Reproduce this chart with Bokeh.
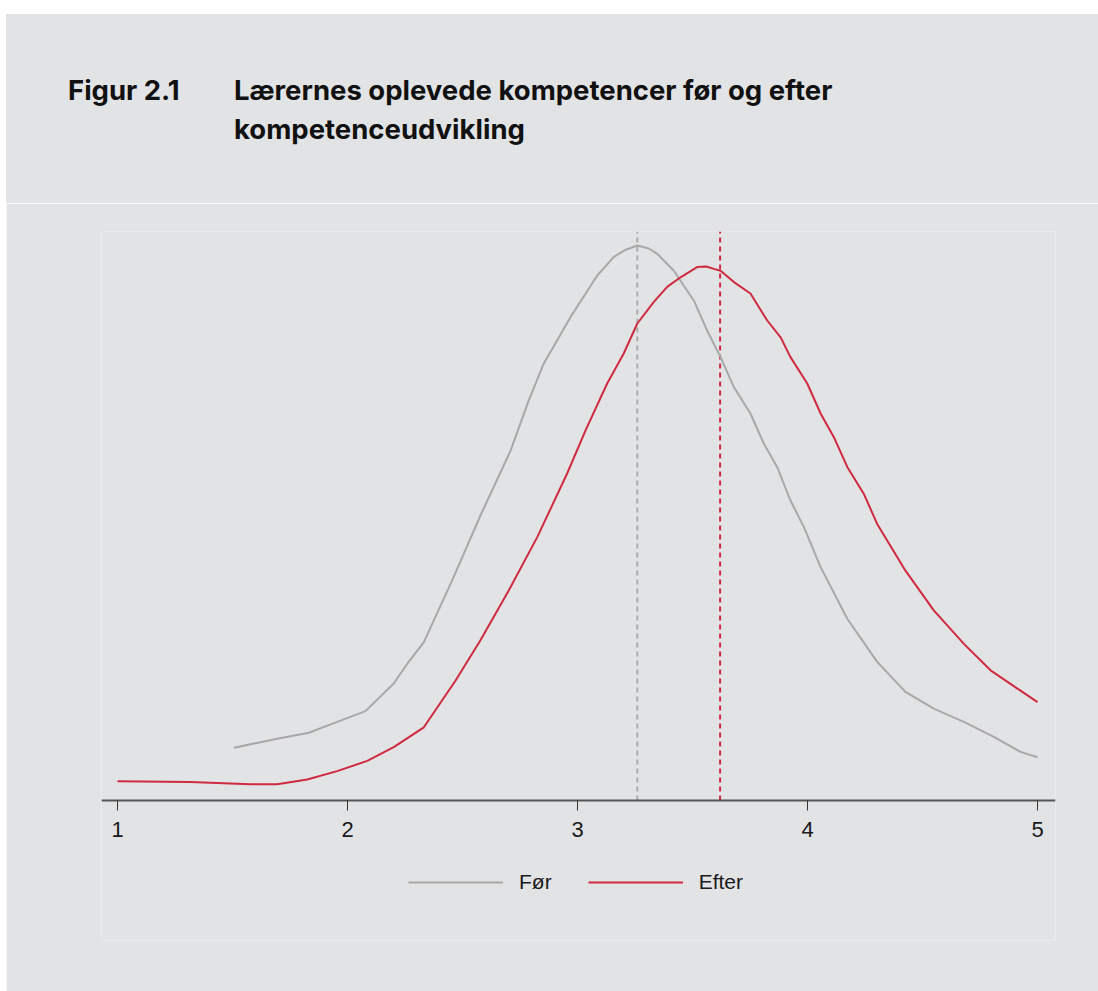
from bokeh.plotting import figure
from bokeh.models import (Range1d, Legend, LegendItem, FixedTicker, Div, Spacer)
from bokeh.layouts import row, column
from bokeh.embed import file_html
from bokeh.resources import INLINE

# ---- data (kernel density estimates) ----
for_x = [1.506, 1.607, 1.694, 1.832, 1.955, 2.078, 2.201, 2.260, 2.332, 2.455,
         2.578, 2.709, 2.788, 2.853, 2.970, 3.086, 3.158, 3.210, 3.260, 3.310,
         3.347, 3.419, 3.506, 3.564, 3.622, 3.680, 3.752, 3.810, 3.868, 3.926,
         3.984, 4.057, 4.173, 4.303, 4.426, 4.549, 4.680, 4.810, 4.926, 5.000]
for_y = [0.088, 0.096, 0.103, 0.113, 0.131, 0.149, 0.195, 0.228, 0.264, 0.367,
         0.475, 0.583, 0.667, 0.728, 0.806, 0.875, 0.906, 0.918, 0.925, 0.920,
         0.911, 0.883, 0.833, 0.783, 0.739, 0.689, 0.645, 0.595, 0.556, 0.500,
         0.456, 0.389, 0.303, 0.231, 0.181, 0.153, 0.131, 0.106, 0.081, 0.072]

efter_x = [1.000, 1.317, 1.578, 1.694, 1.825, 1.955, 2.086, 2.201, 2.332, 2.470,
           2.578, 2.701, 2.825, 2.955, 3.035, 3.129, 3.201, 3.260, 3.332, 3.390,
           3.448, 3.520, 3.560, 3.593, 3.622, 3.680, 3.752, 3.825, 3.883, 3.926,
           3.999, 4.057, 4.114, 4.173, 4.245, 4.303, 4.426, 4.549, 4.680, 4.796,
           4.926, 5.000]
efter_y = [0.032, 0.031, 0.027, 0.027, 0.035, 0.049, 0.066, 0.089, 0.122, 0.200,
           0.267, 0.350, 0.439, 0.545, 0.617, 0.695, 0.745, 0.795, 0.831, 0.856,
           0.872, 0.889, 0.890, 0.886, 0.883, 0.864, 0.845, 0.800, 0.772, 0.739,
           0.695, 0.645, 0.606, 0.556, 0.511, 0.461, 0.383, 0.317, 0.261, 0.217,
           0.183, 0.164]

mean_for = 3.26
mean_efter = 3.62

x_ticks = [1, 2, 3, 4, 5]
series_labels = ["Før", "Efter"]
title_num = "Figur 2.1"
title_lines = ["Lærernes oplevede kompetencer før og efter", "kompetenceudvikling"]

GREY = "#A8A8A8"
MEAN_GREY = "#ABABAB"
RED = "#CF2A3F"
BG = "#E2E3E5"

Y_TOP = 569 / 600
Y_BOTTOM = -140 / 600

p = figure(width=1092, height=788, output_backend="svg", toolbar_location=None,
           x_range=Range1d(1 - 16 / 230, 5 + 18 / 230),
           y_range=Range1d(Y_BOTTOM, Y_TOP),
           min_border_left=95, min_border_right=43, min_border_top=28,
           min_border_bottom=51, margin=0)
p.background_fill_color = BG
p.border_fill_color = BG
p.outline_line_color = None
p.grid.visible = False
p.yaxis.visible = False

ax = p.xaxis[0]
ax.fixed_location = 0
ax.ticker = FixedTicker(ticks=x_ticks)
ax.minor_tick_line_color = None
ax.major_tick_in = 0
ax.major_tick_out = 10
ax.major_tick_line_color = "#333333"
ax.major_tick_line_width = 1
ax.axis_line_color = "#555555"
ax.axis_line_width = 2
ax.major_label_text_font = "Liberation Sans"
ax.major_label_text_font_size = "22px"
ax.major_label_text_color = "#1A1A1A"
ax.major_label_standoff = 11

# mean lines (dashed), from the axis up to the top of the plot region
p.segment(x0=[mean_for], y0=[0], x1=[mean_for], y1=[Y_TOP],
          line_color=MEAN_GREY, line_width=2, line_dash="5 4")
p.segment(x0=[mean_efter], y0=[0], x1=[mean_efter], y1=[Y_TOP],
          line_color=RED, line_width=2, line_dash="5 4")

r_for = p.line(for_x, for_y, line_color=GREY, line_width=2, line_join="round")
r_eft = p.line(efter_x, efter_y, line_color=RED, line_width=2, line_join="round")

legend = Legend(items=[LegendItem(label=series_labels[0], renderers=[r_for]),
                       LegendItem(label=series_labels[1], renderers=[r_eft])],
                orientation="horizontal", location=(307, 46),
                glyph_width=95, glyph_height=20, label_height=20,
                label_standoff=16, spacing=36, padding=0, margin=0,
                border_line_color=None, background_fill_alpha=0,
                label_text_font="Liberation Sans", label_text_font_size="21px",
                label_text_color="#1A1A1A")
p.add_layout(legend)

title_html = (
    '<div style="position:relative;width:1092px;height:189px;'
    'font-family:Inter,sans-serif;font-weight:700;font-size:27.5px;'
    'line-height:27px;color:#111111;">'
    f'<div style="position:absolute;left:62px;top:63px;white-space:nowrap;">{title_num}</div>'
    f'<div style="position:absolute;left:228px;top:63px;white-space:nowrap;">{title_lines[0]}</div>'
    f'<div style="position:absolute;left:228px;top:102px;white-space:nowrap;">{title_lines[1]}</div>'
    '</div>'
)
title_div = Div(text=title_html, width=1092, height=189, margin=0,
                styles={"background-color": BG})

layout = row(
    Spacer(width=6, height=991, margin=0),
    column(Spacer(width=1092, height=14, margin=0), title_div, p, spacing=0, margin=0),
    spacing=0, margin=0,
)

open("out.html", "w").write(file_html(layout, INLINE))
